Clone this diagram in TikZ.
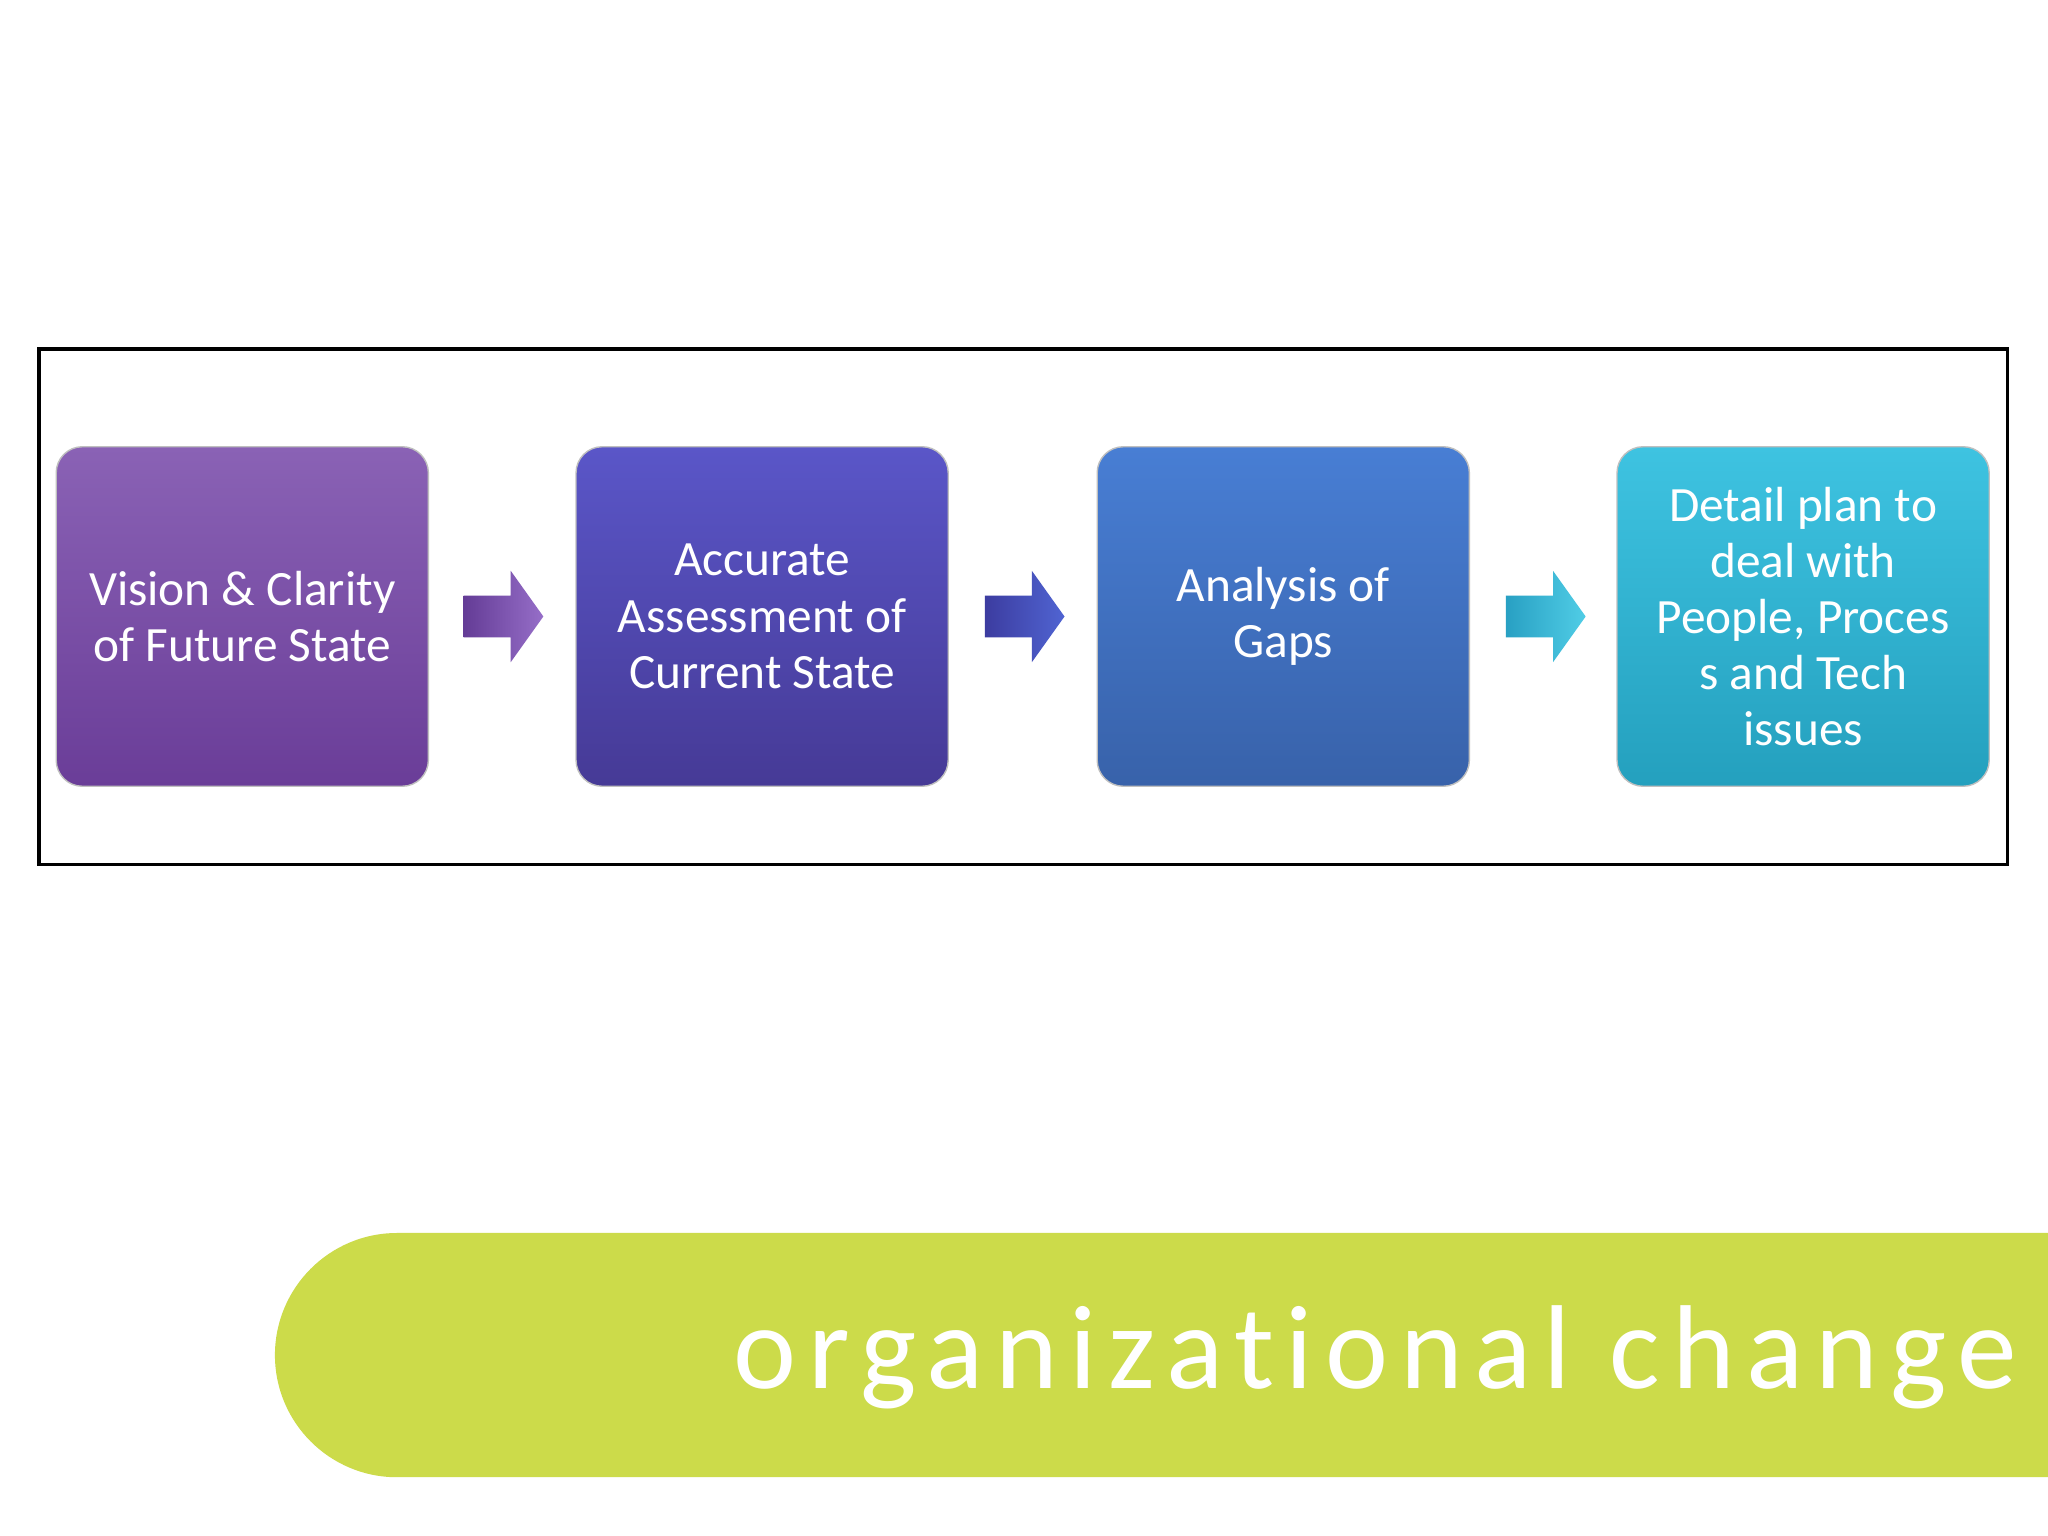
\documentclass[tikz,border=0pt]{standalone}
\usepackage{fontspec}
\setmainfont{Carlito}
\begin{document}
\begin{tikzpicture}[x=0.02cm,y=-0.02cm,
 box/.style={rounded corners=0.4cm,minimum width=5.7cm,minimum height=5.2cm,align=center,text=white,font=\fontsize{21.5}{24.5}\selectfont,draw=black!25,line width=0.6pt}]
\useasboundingbox (0,0) rectangle (1568,1176);
\fill[white] (0,0) rectangle (1568,1176);
\draw[line width=1.6pt] (30,267) rectangle (1537,662);
\node[box,top color={rgb,255:red,138;green,98;blue,181},bottom color={rgb,255:red,106;green,61;blue,152}] (b1) at (185.5,472) {Vision \& Clarity\\of Future State};
\node[box,top color={rgb,255:red,90;green,86;blue,200},bottom color={rgb,255:red,70;green,58;blue,150}] (b2) at (583.5,472) {Accurate\\Assessment of\\Current State};
\node[box,top color={rgb,255:red,72;green,126;blue,212},bottom color={rgb,255:red,56;green,98;blue,170}] (b3) at (982.5,472) {Analysis of\\Gaps};
\node[box,top color={rgb,255:red,62;green,195;blue,225},bottom color={rgb,255:red,36;green,160;blue,190}] (b4) at (1380.5,472) {Detail plan to\\deal with\\People, Proces\\s and Tech\\issues};
\foreach \x/\c/\d in {355/{rgb,255:red,100;green,60;blue,150}/{rgb,255:red,150;green,110;blue,200},754/{rgb,255:red,60;green,60;blue,160}/{rgb,255:red,80;green,100;blue,210},1153/{rgb,255:red,40;green,160;blue,195}/{rgb,255:red,80;green,205;blue,230}}
 \shade[left color=\c,right color=\d] (\x,456) -- (\x+36,456) -- (\x+36,437) -- (\x+61,472) -- (\x+36,507) -- (\x+36,488) -- (\x,488) -- cycle;
\fill[fill={rgb,255:red,204;green,219;blue,74}] (1568,944) -- (304,944) arc[start angle=90,end angle=270,radius=93.5*0.02cm] -- (1568,1131) -- cycle;
\node[anchor=base east,text=white,inner sep=0pt,font=\fontsize{52}{56}\selectfont\addfontfeature{LetterSpace=10,Ligatures=NoCommon}] (t) at (1545,1063) {organizational change};
\end{tikzpicture}
\end{document}
